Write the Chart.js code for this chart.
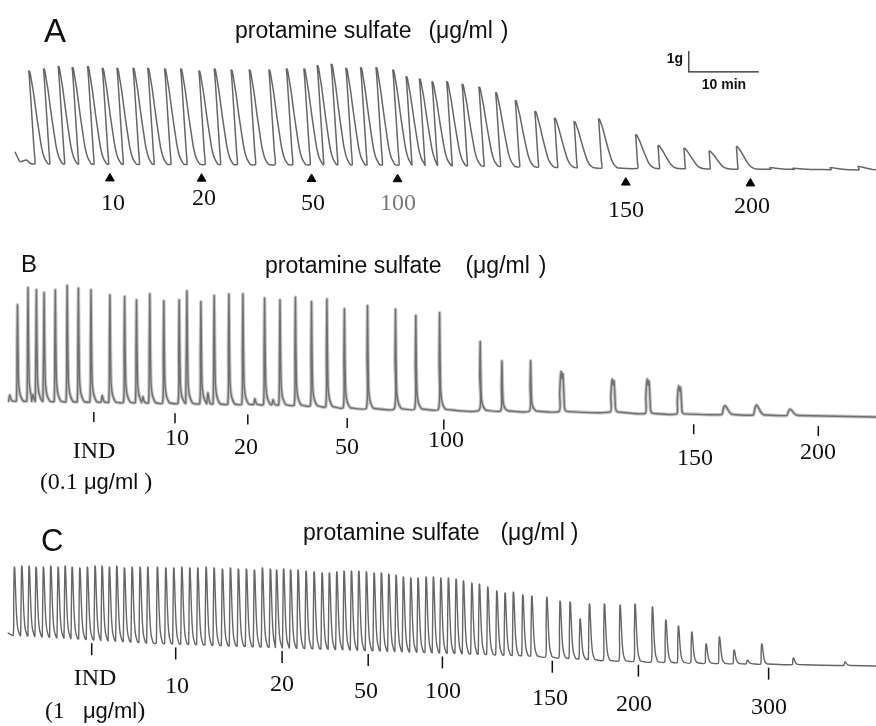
<!DOCTYPE html>
<html>
<head>
<meta charset="utf-8">
<script src="https://cdn.jsdelivr.net/npm/chart.js@4.4.1/dist/chart.umd.min.js"></script>
<style>
  html, body { margin: 0; padding: 0; background: #fff; }
  #fig { position: relative; width: 876px; height: 726px; overflow: hidden; background: #fff; }
  #fig canvas { position: absolute; left: 0; }
  .t { position: absolute; white-space: pre; line-height: 1; color: #111; }
  .sans { font-family: "Liberation Sans", Arial, sans-serif; }
  .serif { font-family: "Liberation Serif", "Times New Roman", serif; }
  .c { transform: translate(-50%, -50%); }
  .l { transform: translateY(-50%); }
  .title { font-size: 23px; }
  .num { font-size: 24px; }
</style>
</head>
<body>
<div id="fig">
  <canvas id="panelA" width="876" height="240" style="top:0px"></canvas>
  <canvas id="panelB" width="876" height="260" style="top:240px"></canvas>
  <canvas id="panelC" width="876" height="226" style="top:500px"></canvas>

  <!-- panel A -->
  <div class="t sans l" style="left:44px;top:30px;font-size:33px">A</div>
  <div class="t sans l title" style="left:235px;top:30px">protamine sulfate<span style="margin-left:17px">(μg/ml</span><span style="margin-left:8px">)</span></div>
  <div class="t sans c" style="left:675px;top:58px;font-size:14px;font-weight:bold">1g</div>
  <div class="t sans c" style="left:724px;top:84px;font-size:14px;font-weight:bold">10 min</div>
  <div class="t serif c num" style="left:113px;top:202px">10</div>
  <div class="t serif c num" style="left:204px;top:197px">20</div>
  <div class="t serif c num" style="left:313px;top:202px">50</div>
  <div class="t serif c num" style="left:398px;top:202px;color:#777">100</div>
  <div class="t serif c num" style="left:626px;top:209px">150</div>
  <div class="t serif c num" style="left:752px;top:205px">200</div>

  <!-- panel B -->
  <div class="t sans l" style="left:21px;top:264px;font-size:24px">B</div>
  <div class="t sans l title" style="left:265px;top:265px">protamine sulfate<span style="margin-left:24px">(μg/ml</span><span style="margin-left:9px">)</span></div>
  <div class="t serif c num" style="left:94px;top:450px">IND</div>
  <div class="t c num" style="left:96px;top:481px"><span class="serif">(0.1 </span><span class="sans" style="font-size:22px">μg/ml</span><span class="serif"> )</span></div>
  <div class="t serif c num" style="left:177px;top:437px">10</div>
  <div class="t serif c num" style="left:246px;top:446px">20</div>
  <div class="t serif c num" style="left:347px;top:446px">50</div>
  <div class="t serif c num" style="left:446px;top:439px">100</div>
  <div class="t serif c num" style="left:695px;top:457px">150</div>
  <div class="t serif c num" style="left:818px;top:451px">200</div>

  <!-- panel C -->
  <div class="t sans l" style="left:41px;top:540px;font-size:31px">C</div>
  <div class="t sans l title" style="left:303px;top:532px">protamine sulfate<span style="margin-left:21px">(μg/ml</span><span style="margin-left:6px">)</span></div>
  <div class="t serif c num" style="left:95px;top:677px">IND</div>
  <div class="t c num" style="left:95px;top:710px"><span class="serif">(1   </span><span class="sans" style="font-size:22px">μg/ml</span><span class="serif">)</span></div>
  <div class="t serif c num" style="left:177px;top:685px">10</div>
  <div class="t serif c num" style="left:282px;top:683px">20</div>
  <div class="t serif c num" style="left:366px;top:690px">50</div>
  <div class="t serif c num" style="left:443px;top:690px">100</div>
  <div class="t serif c num" style="left:550px;top:697px">150</div>
  <div class="t serif c num" style="left:634px;top:703px">200</div>
  <div class="t serif c num" style="left:769px;top:706px">300</div>
</div>

<script>
// Recording scale (from the 1 g / 10 min bar in panel A)
const PX_PER_MIN = 7;
const PX_PER_G = 21;
const T_END = 876 / PX_PER_MIN;

// ---- Panel A: contraction peaks (min, g) ----
const aPeakTime = [4.1, 6.2, 8.3, 10.3, 12.5, 14.6, 16.7, 19.0, 21.1, 23.5, 25.8, 28.4, 30.6, 33.0, 35.6,
    38.4, 40.9, 43.4, 45.3, 47.3, 49.4, 51.5, 53.7, 56.1, 58.0, 59.9, 61.7, 63.8, 66.0, 68.4,
    70.8, 73.6, 76.4, 79.2, 82.0, 85.5, 90.8, 94.0, 97.7, 101.3, 105.2, 110.0, 113.3, 118.6, 122.6];
const aPeakForce = [4.52, 4.62, 4.73, 4.68, 4.73, 4.65, 4.65, 4.65, 4.65, 4.62, 4.62, 4.52, 4.62, 4.57, 4.57,
    4.57, 4.62, 4.62, 4.78, 4.84, 4.65, 4.68, 4.68, 4.57, 4.25, 4.14, 4.01, 4.01, 3.89, 3.75,
    3.49, 3.11, 2.59, 2.27, 2.11, 2.24, 1.48, 0.97, 0.84, 0.71, 0.92, -0.08, -0.11, -0.08, -0.02];
const aBaseTime = [3.9, 57.1, 85.7, 125.1];
const aBaseForce = [0.1, 0.05, -0.1, -0.19];
const aLeadTime = [2.14, 2.86, 3.81, 4.29];
const aLeadForce = [0.68, 0.21, 0.29, 0.13];
const aDoseTime = [15.7, 28.8, 44.5, 56.8, 89.4, 107.2];
const aDoseLabels = ['10', '20', '50', '100', '150', '200'];
const scaleBarForce = 1;   // g
const scaleBarTime = 10;   // min

// ---- Panel B ----
const bPeakTime = [2.5, 4.0, 5.2, 6.3, 7.9, 9.6, 11.2, 13.0, 15.7, 17.8, 19.5, 21.4, 23.4, 25.6, 26.7, 28.7,
    30.6, 32.7, 34.7, 37.8, 40.0, 42.2, 44.5, 46.7, 49.2, 52.5, 56.5, 59.4, 62.8, 68.6, 71.7, 75.8];
const bPeakForce = [4.67, 5.49, 5.38, 5.25, 5.38, 5.59, 5.46, 5.38, 5.14, 5.06, 4.90, 5.19, 4.86, 4.90, 5.33, 4.82,
    5.11, 5.18, 5.19, 4.99, 4.90, 5.03, 4.82, 4.94, 4.48, 4.63, 4.46, 4.16, 4.30, 2.92, 2.00, 2.01];
const bBroadTime = [80.3, 87.6, 92.6, 97.1];
const bBroadForce = [1.49, 1.13, 1.13, 0.81];
const bHumpTime = [103.6, 108.1, 112.9];
const bHumpForce = [-0.13, -0.10, -0.30];
const bSmallTime = [1.4, 4.7, 14.6, 20.4, 29.7, 36.4, 39.0];
const bSmallForce = [0.38, 0.4, 0.35, 0.3, 0.48, 0.2, 0.15];
const bBaseTime = [1.1, 14.3, 42.9, 50.0, 61.4, 71.4, 88.6, 92.9, 114.3, 125.1];
const bBaseForce = [0.1, 0.05, -0.1, -0.24, -0.29, -0.37, -0.43, -0.5, -0.6, -0.67];
const bDoseTime = [13.4, 25.0, 35.4, 49.6, 63.4, 99.1, 116.9];
const bDoseLabels = ['IND', '10', '20', '50', '100', '150', '200'];

// ---- Panel C ----
const cPeakTime = [2.04, 3.10, 4.14, 5.14, 6.19, 7.24, 8.29, 9.29, 10.29, 11.39, 12.47, 13.57, 14.57, 15.61, 16.67,
    17.76, 18.86, 20.00, 21.10, 22.47, 23.67, 24.81, 25.96, 27.10, 28.24, 29.43, 30.57, 31.76, 32.90, 34.04,
    35.19, 36.33, 37.47, 38.61, 39.50, 40.50, 41.50, 42.57, 43.71, 44.86, 46.00, 47.04, 48.10, 49.14, 50.19,
    51.24, 52.33, 53.43, 54.47, 55.53, 56.57, 57.61, 58.67, 59.71, 60.86, 61.90, 62.96, 64.04, 65.14, 66.19,
    67.39, 68.47, 69.67, 70.96, 72.14, 73.33, 74.67, 75.96, 78.10, 80.00, 81.43, 82.86, 84.19, 86.33, 88.57,
    90.71, 93.19, 95.10, 96.90, 98.81, 100.86, 102.76, 104.86, 106.76, 108.81, 113.33, 120.71];
const cPeakForce = [3.33, 3.38, 3.38, 3.33, 3.33, 3.38, 3.33, 3.38, 3.33, 3.29, 3.33, 3.38, 3.38, 3.33, 3.38,
    3.29, 3.33, 3.33, 3.33, 3.33, 3.29, 3.29, 3.33, 3.29, 3.29, 3.33, 3.29, 3.24, 3.29, 3.24,
    3.24, 3.19, 3.29, 3.24, 3.19, 3.24, 3.19, 3.19, 3.14, 3.10, 3.05, 3.05, 3.10, 3.14, 3.14,
    3.14, 3.10, 3.05, 3.05, 3.00, 2.95, 2.86, 2.81, 2.81, 2.86, 2.86, 2.81, 2.81, 2.76, 2.67,
    2.57, 2.52, 2.38, 2.19, 2.10, 2.14, 2.00, 1.95, 1.90, 1.71, 1.67, 0.86, 1.57, 1.57, 1.52,
    1.57, 1.43, 0.81, 0.52, 0.24, -0.33, 0.00, -0.62, -1.10, -0.33, -1.00, -1.19];
const cBaseTime = [1.1, 21.4, 41.4, 62.9, 75.7, 85.7, 100, 125.1];
const cBaseForce = [0.1, -0.29, -0.52, -0.76, -0.90, -1.10, -1.24, -1.38];
const cDoseTime = [13.1, 25.1, 40.3, 52.6, 63.2, 78.9, 91.2, 109.8];
const cDoseLabels = ['IND', '10', '20', '50', '100', '150', '200', '300'];

// Contraction shapes: [offset from peak in px, fraction of amplitude]
const SHAPE_A = {
    lean: 4.6,
    rise: [[6.5, 0], [5.6, 0.15], [3.4, 0.5], [1.3, 0.84], [0.3, 0.98], [0, 1]],
    decay: [[0.8, 1], [1.6, 0.97], [3, 0.88], [4.6, 0.78], [6.5, 0.63], [8.6, 0.47], [11, 0.3],
        [13, 0.17], [15.5, 0.07], [18, 0.02], [19.5, 0]]
};
const SHAPE_B = {
    lean: null,
    rise: [[-1.2, 0], [-0.5, 0.5], [0, 1]],
    decay: [[0.5, 0.55], [1.1, 0.2], [2, 0.1], [3.2, 0.05], [4.8, 0.015], [6, 0]]
};
const SHAPE_B_BROAD = {
    lean: null,
    rise: [[-3, 0], [-2.4, 0.45], [-1.6, 0.88], [-0.8, 1], [0, 0.82], [0.8, 0.95], [1.6, 0.55]],
    decay: [[2.3, 0.12], [3.2, 0.03], [5, 0]]
};
const SHAPE_B_HUMP = {
    lean: null,
    rise: [[-3.5, 0], [-2, 0.6], [-0.8, 0.95], [0, 1]],
    decay: [[1.5, 0.8], [3, 0.5], [4.5, 0.25], [6, 0.08], [8, 0]]
};
const SHAPE_B_SMALL = {
    lean: null,
    rise: [[-1.2, 0], [0, 1]],
    decay: [[1.2, 0.3], [2.5, 0]]
};
const SHAPE_C = {
    lean: null,
    rise: [[-1.1, 0], [-0.6, 0.5], [-0.2, 0.93], [0, 1]],
    decay: [[0.4, 0.99], [0.9, 0.82], [1.6, 0.52], [2.4, 0.27], [3.4, 0.11], [4.6, 0.04], [5.6, 0]]
};

function interp(ts, fs, t) {
    if (t <= ts[0]) return fs[0];
    for (let i = 1; i < ts.length; i++) {
        if (t <= ts[i]) {
            const k = (t - ts[i - 1]) / (ts[i] - ts[i - 1]);
            return fs[i - 1] + k * (fs[i] - fs[i - 1]);
        }
    }
    return fs[fs.length - 1];
}

function events(times, forces, shape) {
    return times.map((t, i) => ({ t, peak: forces[i], shape }));
}

// Turn peak list into a pen trace
function buildTrace(evts, baseT, baseF, lead) {
    evts.sort((a, b) => a.t - b.t);
    const pts = lead.slice();
    const leanOf = ev => {
        if (!ev.shape.lean) return 1;
        const amp = ev.peak - interp(baseT, baseF, ev.t);
        return Math.min(1.1, Math.max(0.15, amp / ev.shape.lean));
    };
    evts.forEach((ev, i) => {
        const base = interp(baseT, baseF, ev.t);
        const amp = ev.peak - base;
        const lean = leanOf(ev);
        const next = evts[i + 1];
        const limit = next ? next.t + next.shape.rise[0][0] * leanOf(next) / PX_PER_MIN : Infinity;
        ev.shape.rise.forEach(([dx, f]) => {
            pts.push({ x: ev.t + dx * lean / PX_PER_MIN, y: base + f * amp });
        });
        ev.shape.decay.forEach(([dx, f]) => {
            const x = ev.t + dx / PX_PER_MIN;
            if (x < limit - 0.05) pts.push({ x, y: base + f * amp });
        });
    });
    pts.push({ x: T_END, y: interp(baseT, baseF, T_END) });
    return pts;
}

function markers(times, baseT, baseF, offset) {
    return times.map(t => ({ x: t, y: interp(baseT, baseF, t) - offset }));
}

function makePanel(id, zeroPx, datasets) {
    const canvas = document.getElementById(id);
    const h = canvas.height;
    return new Chart(canvas, {
        type: 'scatter',
        data: { datasets },
        options: {
            responsive: false,
            animation: false,
            devicePixelRatio: 1,
            layout: { padding: 0, autoPadding: false },
            scales: {
                x: { type: 'linear', min: 0, max: T_END, display: false },
                y: { type: 'linear', min: -(h - zeroPx) / PX_PER_G, max: zeroPx / PX_PER_G, display: false }
            },
            plugins: { legend: { display: false }, tooltip: { enabled: false } },
            events: []
        }
    });
}

const traceStyle = (color, width) => ({
    showLine: true, pointRadius: 0, borderColor: color, borderWidth: width, tension: 0.2, fill: false
});

// Panel A
const traceA = buildTrace(events(aPeakTime, aPeakForce, SHAPE_A), aBaseTime, aBaseForce,
    aLeadTime.map((t, i) => ({ x: t, y: aLeadForce[i] })));
const barT0 = 98.4, barF0 = 4.48;
makePanel('panelA', 166, [
    { label: 'trace', data: traceA, ...traceStyle('#666666', 1.5) },
    { label: 'dose', data: markers(aDoseTime, aBaseTime, aBaseForce, 0.68),
      pointStyle: 'triangle', pointRadius: 5, backgroundColor: '#000', borderColor: '#000', borderWidth: 1 },
    { label: 'scale', data: [{ x: barT0, y: barF0 + scaleBarForce }, { x: barT0, y: barF0 },
        { x: barT0 + scaleBarTime, y: barF0 }],
      showLine: true, pointRadius: 0, borderColor: '#222', borderWidth: 1.2, tension: 0 }
]);

// Panel B
const traceB = buildTrace(
    events(bPeakTime, bPeakForce, SHAPE_B)
        .concat(events(bBroadTime, bBroadForce, SHAPE_B_BROAD))
        .concat(events(bHumpTime, bHumpForce, SHAPE_B_HUMP))
        .concat(events(bSmallTime, bSmallForce, SHAPE_B_SMALL)),
    bBaseTime, bBaseForce, [{ x: 1.1, y: 0.1 }]);
makePanel('panelB', 163, [
    { label: 'trace', data: traceB, ...traceStyle('#707070', 1.4) },
    { label: 'band', data: traceB, ...traceStyle('rgba(150,150,150,0.55)', 3.5) },
    { label: 'dose', data: markers(bDoseTime, bBaseTime, bBaseForce, 0.72),
      pointStyle: 'line', rotation: 90, pointRadius: 5, borderColor: '#111', borderWidth: 1.5 }
]);

// Panel C
const traceC = buildTrace(events(cPeakTime, cPeakForce, SHAPE_C), cBaseTime, cBaseForce,
    [{ x: 1.1, y: 0.2 }]);
makePanel('panelC', 137, [
    { label: 'trace', data: traceC, ...traceStyle('#666666', 1.4) },
    { label: 'dose', data: markers(cDoseTime, cBaseTime, cBaseForce, 0.45),
      pointStyle: 'line', rotation: 90, pointRadius: 6, borderColor: '#111', borderWidth: 1.5 }
]);
</script>
</body>
</html>
